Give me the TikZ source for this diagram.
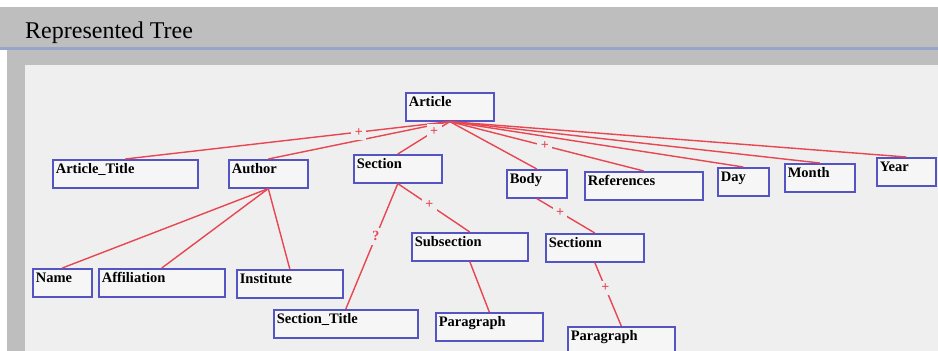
\documentclass[tikz,border=0pt]{standalone}
\usepackage{fontspec}
\setmainfont{Liberation Serif}

\definecolor{bargray}{RGB}{190,190,190}
\definecolor{barline}{RGB}{150,165,200}
\definecolor{panel}{RGB}{239,239,239}
\definecolor{boxblue}{RGB}{84,84,196}
\definecolor{boxfill}{RGB}{246,246,246}
\definecolor{linkred}{RGB}{232,70,80}

\newcommand{\elemfont}{\bfseries\fontsize{14.5}{16}\selectfont}

\tikzset{
  elem/.style={draw=boxblue, fill=boxfill, line width=1.6pt, anchor=north west,
    inner xsep=3pt, inner ysep=2pt, text height=12pt, text depth=12pt,
    text width=#1pt, align=left, font=\elemfont},
  link/.style={draw=linkred, line width=1.4pt},
  mult/.style={fill=panel, text=linkred, inner sep=3.5pt, font=\bfseries\fontsize{14}{14}\selectfont}
}

\begin{document}
\begin{tikzpicture}[x=1pt, y=-1pt]
  \useasboundingbox (0,0) rectangle (938,351);
  \clip (0,0) rectangle (938,351);
  % window frame
  \fill[bargray] (0,7) rectangle (938,47);
  \fill[barline] (0,47) rectangle (938,50);
  \fill[bargray] (7,50) rectangle (938,351);
  \fill[panel] (25,65) rectangle (938,351);
  \node[anchor=base west, inner sep=0pt, font=\fontsize{24}{26}\selectfont] (head) at (25,38) {Represented Tree};

  % elements
  \node[elem=82] (article) at (405,92) {Article};
  \node[elem=139] (title) at (52,159) {Article\_Title};
  \node[elem=73] (author) at (228,159) {Author};
  \node[elem=82] (section) at (353,154) {Section};
  \node[elem=54] (body) at (506,169) {Body};
  \node[elem=112] (refs) at (584,171) {References};
  \node[elem=45] (day) at (717,167) {Day};
  \node[elem=64] (month) at (784,163) {Month};
  \node[elem=53] (year) at (876,157) {Year};
  \node[elem=53] (name) at (32,268) {Name};
  \node[elem=120] (affil) at (98,268) {Affiliation};
  \node[elem=100] (inst) at (236,269) {Institute};
  \node[elem=138] (sectitle) at (273,309) {Section\_Title};
  \node[elem=110] (subsec) at (411,232) {Subsection};
  \node[elem=101] (para) at (435,312) {Paragraph};
  \node[elem=92] (sectionn) at (545,233) {Sectionn};
  \node[elem=101] (parab) at (567,326) {Paragraph};

  % links
  \draw[link] (article.south) -- (author.north);
  \draw[link] (article.south) -- (title.north) node[mult, pos=0.28] {+};
  \draw[link] (article.south) -- (section.north) node[mult, pos=0.3] {+};
  \draw[link] (article.south) -- (body.north);
  \draw[link] (article.south) -- (refs.north) node[mult, pos=0.49] {+};
  \draw[link] (article.south) -- (day.north);
  \draw[link] (article.south) -- (month.north);
  \draw[link] (article.south) -- (year.north);
  \draw[link] (author.south) -- (name.north);
  \draw[link] (author.south) -- (affil.north);
  \draw[link] (author.south) -- (inst.north);
  \draw[link] (section.south) -- (sectitle.north) node[mult, pos=0.42] {?};
  \draw[link] (section.south) -- (subsec.north) node[mult, pos=0.44] {+};
  \draw[link] (subsec.south) -- (para.north);
  \draw[link] (body.south) -- (sectionn.north) node[mult, pos=0.4] {+};
  \draw[link] (sectionn.south) -- (parab.north) node[mult, pos=0.4] {+};
\end{tikzpicture}
\end{document}
